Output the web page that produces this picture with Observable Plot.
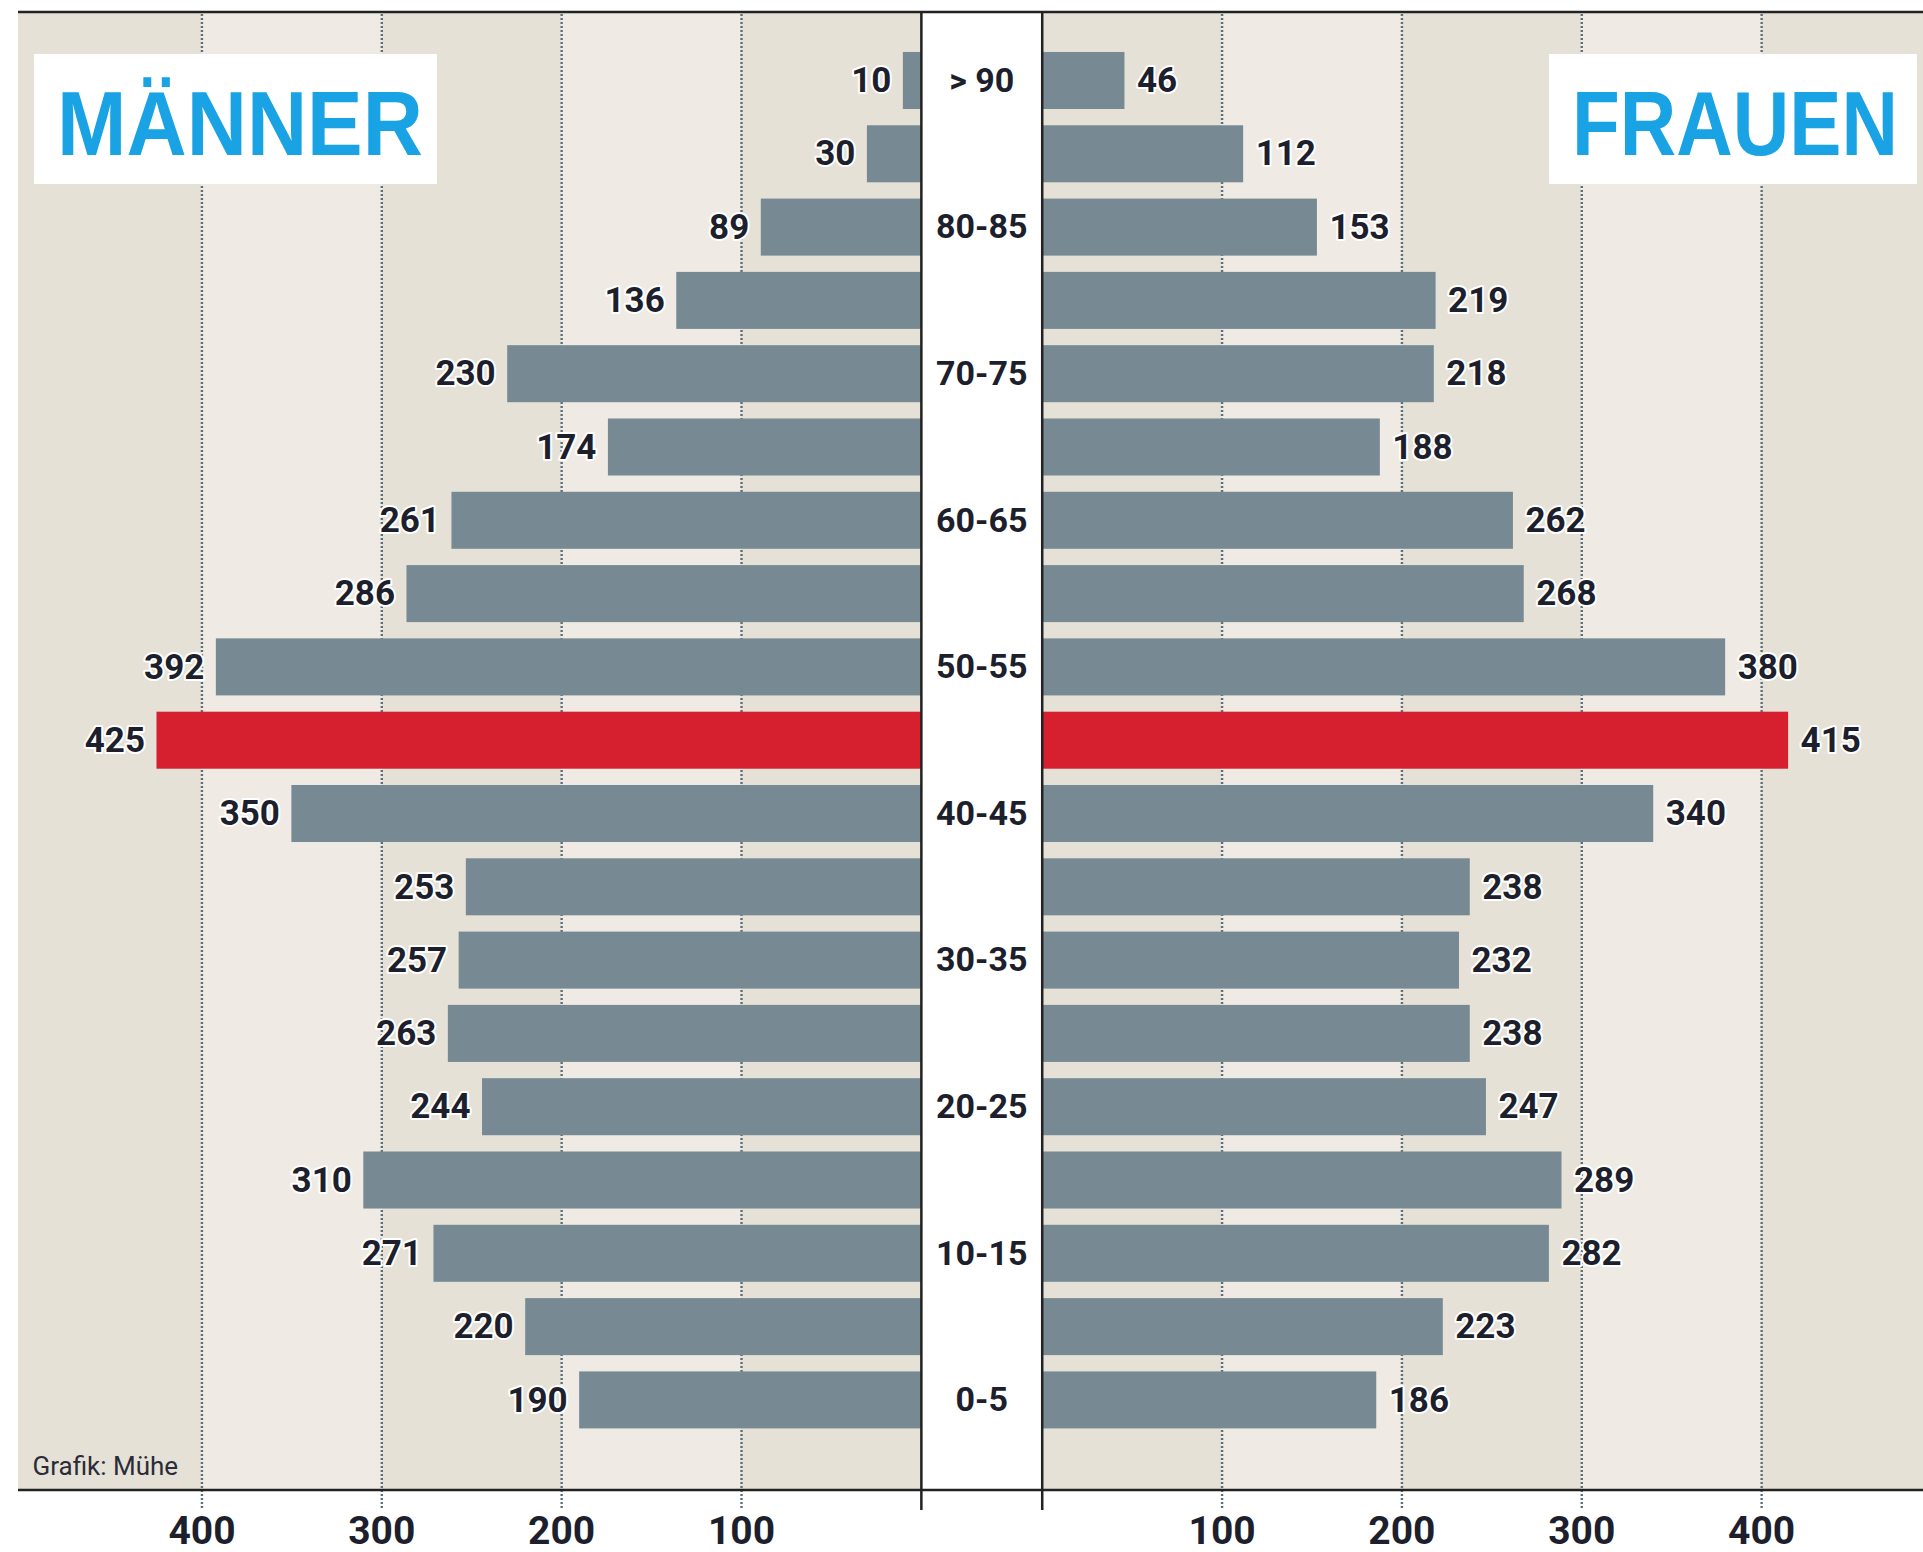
<!DOCTYPE html>
<html>
<head>
<meta charset="utf-8">
<script src="https://cdn.jsdelivr.net/npm/d3@7"></script>
<script src="https://cdn.jsdelivr.net/npm/@observablehq/plot@0.6"></script>
<style>
  body { margin: 0; background: #ffffff; }
</style>
</head>
<body>
<div id="chart"></div>
<script>
// ---- data (top row first) ----
const ages = ["> 90", "85-90", "80-85", "75-80", "70-75", "65-70", "60-65", "55-60", "50-55", "45-50",
              "40-45", "35-40", "30-35", "25-30", "20-25", "15-20", "10-15", "5-10", "0-5"];
const men   = [10, 30, 89, 136, 230, 174, 261, 286, 392, 425, 350, 253, 257, 263, 244, 310, 271, 220, 190];
const women = [46, 112, 153, 219, 218, 188, 262, 268, 380, 415, 340, 238, 232, 238, 247, 289, 282, 223, 186];
const labeledAges = ["> 90", "80-85", "70-75", "60-65", "50-55", "40-45", "30-35", "20-25", "10-15", "0-5"];
const highlightAge = "45-50";
const tickValues = [100, 200, 300, 400];
const bandEdges = [0, 100, 200, 300, 400];
const titleLeft = "MÄNNER";
const titleRight = "FRAUEN";
const caption = "Grafik: Mühe";

// ---- layout / style constants ----
const G = 33.6;            // half of the centre gap, in value units
const LEFT_EXT = 502;      // visible value range, men side
const RIGHT_EXT = 490;     // visible value range, women side
const BAR = "#778a94", RED = "#d6202f";
const DARK = "#e6e1d6", LIGHT = "#efebe4";
const INK = "#1d1f2d";
const FONT = "Roboto, 'Noto Sans', sans-serif";

const rows = ages.map((age, i) => ({age, men: men[i], women: women[i]}));
const bands = bandEdges.map((from, i) => ({
  from, to: i + 1 < bandEdges.length ? bandEdges[i + 1] : null, i
}));

function decor(...args) {
  const dims = args.find(a => a && a.width !== undefined && a.marginTop !== undefined);
  const {width, height, marginTop, marginBottom, marginLeft, marginRight} = dims;
  const g = d3.create("svg:g");
  const yTop = marginTop, yBot = height - marginBottom;
  g.append("line").attr("x1", marginLeft).attr("x2", width - marginRight)
    .attr("y1", yTop).attr("y2", yTop).attr("stroke", "#222").attr("stroke-width", 2.5);
  g.append("line").attr("x1", marginLeft).attr("x2", width - marginRight)
    .attr("y1", yBot).attr("y2", yBot).attr("stroke", "#222").attr("stroke-width", 2.5);
  // title boxes
  const boxes = [
    {t: titleLeft, x: marginLeft + 16, w: 403, tx: marginLeft + 39, tl: 366},
    {t: titleRight, x: width - 6 - 368, w: 368, tx: width - 6 - 368 + 23, tl: 326}
  ];
  for (const b of boxes) {
    g.append("rect").attr("x", b.x).attr("y", 54).attr("width", b.w).attr("height", 130).attr("fill", "#fff");
    g.append("g").attr("transform", `translate(${b.tx},155)`)
      .append("text").attr("class", "ttl").attr("data-w", b.tl)
      .attr("x", 0).attr("y", 0)
      .attr("text-anchor", "start")
      .attr("font-family", "'Liberation Sans', Arial, sans-serif").attr("font-weight", 700)
      .attr("font-size", 90).attr("fill", "#1aa3e4")
      .text(b.t);
  }
  return g.node();
}

const textCommon = {fontFamily: FONT, fontWeight: 700, fill: INK};

const chart = Plot.plot({
  width: 1923,
  height: 1552,
  marginLeft: 18,
  marginRight: 0,
  marginTop: 12,
  marginBottom: 62,
  x: {domain: [-(G + LEFT_EXT), G + RIGHT_EXT], axis: null},
  y: {domain: ages, range: [35.7, 1444.7], padding: 0.222, round: false, axis: null},
  style: {background: "#fff", overflow: "visible"},
  marks: [
    // background bands
    Plot.rect(bands, {x1: d => -G - d.from, x2: d => d.to == null ? -(G + LEFT_EXT) : -G - d.to,
                      fill: d => d.i % 2 ? LIGHT : DARK}),
    Plot.rect(bands, {x1: d => G + d.from, x2: d => d.to == null ? G + RIGHT_EXT : G + d.to,
                      fill: d => d.i % 2 ? LIGHT : DARK}),
    Plot.rect([0], {x1: () => -G, x2: () => G, fill: "#ffffff"}),
    // dotted grid lines (extending below the axis line as ticks)
    Plot.ruleX(tickValues.flatMap(t => [-G - t, G + t]), {
      stroke: "#5d6f7b", strokeWidth: 2.4, strokeDasharray: "2,2", insetTop: 2, insetBottom: -20
    }),
    // bars
    Plot.barX(rows, {y: "age", x1: () => -G, x2: d => -G - d.men,
                     fill: d => d.age === highlightAge ? RED : BAR}),
    Plot.barX(rows, {y: "age", x1: () => G, x2: d => G + d.women,
                     fill: d => d.age === highlightAge ? RED : BAR}),
    // centre column borders
    Plot.ruleX([-G, G], {stroke: "#222", strokeWidth: 2.5, insetBottom: -20}),
    // value labels
    Plot.text(rows, {...textCommon, y: "age", x: d => -G - d.men, text: d => String(d.men),
                     textAnchor: "end", dx: -12, fontSize: 35, stroke: "#fff", strokeWidth: 4,
                     paintOrder: "stroke"}),
    Plot.text(rows, {...textCommon, y: "age", x: d => G + d.women, text: d => String(d.women),
                     textAnchor: "start", dx: 12, fontSize: 35, stroke: "#fff", strokeWidth: 4,
                     paintOrder: "stroke"}),
    // age labels
    Plot.text(rows.filter(d => labeledAges.includes(d.age)), {...textCommon, y: "age", x: () => 0,
                     text: "age", textAnchor: "middle", fontSize: 34}),
    // axis tick labels
    Plot.text(tickValues, {...textCommon, x: t => -G - t, text: t => String(t), frameAnchor: "bottom",
                     dy: 53, fontSize: 39}),
    Plot.text(tickValues, {...textCommon, x: t => G + t, text: t => String(t), frameAnchor: "bottom",
                     dy: 53, fontSize: 39}),
    // caption
    Plot.text([caption], {fontFamily: FONT, fill: "#2a2c38", text: d => d, frameAnchor: "bottom-left",
                     textAnchor: "start", dx: 14, dy: -16, fontSize: 26}),
    decor
  ]
});
document.getElementById("chart").appendChild(chart);
// fit the two title words to their boxes by horizontal scaling
chart.querySelectorAll("text.ttl").forEach(t => {
  const w = t.getComputedTextLength();
  if (w > 0) t.setAttribute("transform", `scale(${(+t.dataset.w / w).toFixed(4)},1)`);
});
</script>
</body>
</html>
